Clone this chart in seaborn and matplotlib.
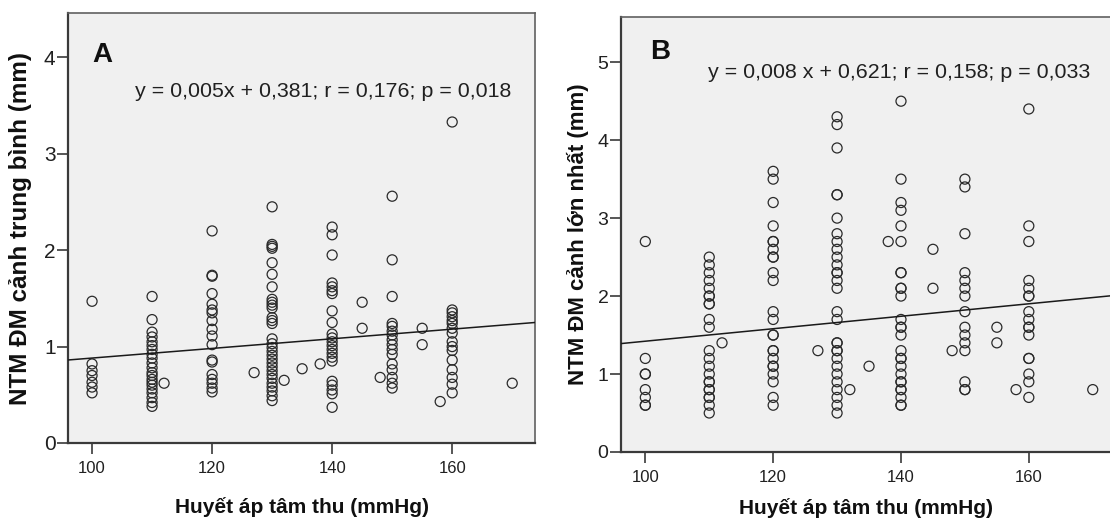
import matplotlib
matplotlib.use("Agg")
import matplotlib.pyplot as plt
import pandas as pd
import seaborn as sns

# Panel A: mean carotid IMT (mm) by systolic BP column
a_y_100 = [1.47, 0.82, 0.75, 0.70, 0.63, 0.58, 0.52]
a_y_110 = [1.52, 1.28, 1.15, 1.10, 1.05, 1.01, 0.97, 0.92, 0.88, 0.83, 0.78,
           0.73, 0.70, 0.66, 0.63, 0.60, 0.56, 0.52, 0.47, 0.42, 0.38]
a_y_120 = [2.20, 1.74, 1.73, 1.55, 1.44, 1.38, 1.35, 1.27, 1.18, 1.11, 1.02,
           0.86, 0.84, 0.71, 0.66, 0.62, 0.57, 0.53]
a_y_130 = [2.45, 2.06, 2.04, 2.02, 1.87, 1.75, 1.62, 1.49, 1.46, 1.43, 1.40,
           1.30, 1.27, 1.24, 1.08, 1.03, 0.99, 0.95, 0.91, 0.87, 0.83, 0.79,
           0.75, 0.71, 0.67, 0.62, 0.58, 0.54, 0.49, 0.44]
a_y_140 = [2.24, 2.16, 1.95, 1.66, 1.62, 1.58, 1.55, 1.37, 1.25, 1.13, 1.09,
           1.05, 1.01, 0.97, 0.93, 0.89, 0.85, 0.64, 0.60, 0.55, 0.51, 0.37]
a_y_150 = [2.56, 1.90, 1.52, 1.24, 1.21, 1.16, 1.12, 1.07, 1.02, 0.97, 0.92,
           0.82, 0.76, 0.68, 0.62, 0.57]
a_y_160 = [3.33, 1.38, 1.35, 1.31, 1.27, 1.24, 1.19, 1.14, 1.05, 1.00, 0.96,
           0.86, 0.76, 0.68, 0.61, 0.52]
a_extra_x = [112, 127, 132, 135, 138, 145, 145, 148, 155, 155, 158, 170]
a_extra_y = [0.62, 0.73, 0.65, 0.77, 0.82, 1.46, 1.19, 0.68, 1.19, 1.02, 0.43, 0.62]

# Panel B: max carotid IMT (mm)
b_y_100 = [2.7, 1.2, 1.0, 1.0, 0.8, 0.7, 0.6, 0.6]
b_y_110 = [2.5, 2.4, 2.3, 2.2, 2.1, 2.0, 2.0, 1.9, 1.9, 1.7, 1.6, 1.3, 1.2,
           1.1, 1.0, 0.9, 0.9, 0.8, 0.8, 0.7, 0.7, 0.6, 0.5]
b_y_120 = [3.6, 3.5, 3.2, 2.9, 2.7, 2.7, 2.6, 2.5, 2.5, 2.3, 2.2, 1.8, 1.7,
           1.5, 1.5, 1.3, 1.3, 1.2, 1.1, 1.1, 1.0, 0.9, 0.7, 0.6]
b_y_130 = [4.3, 4.2, 3.9, 3.3, 3.3, 3.0, 2.8, 2.7, 2.6, 2.5, 2.4, 2.3, 2.3,
           2.2, 2.1, 1.8, 1.7, 1.4, 1.4, 1.3, 1.3, 1.2, 1.1, 1.0, 0.9, 0.8,
           0.7, 0.6, 0.5]
b_y_140 = [4.5, 3.5, 3.2, 3.1, 2.9, 2.7, 2.3, 2.3, 2.1, 2.1, 2.0, 1.7, 1.6,
           1.6, 1.5, 1.3, 1.2, 1.2, 1.1, 1.0, 0.9, 0.9, 0.8, 0.8, 0.7, 0.6, 0.6]
b_y_150 = [3.5, 3.4, 2.8, 2.3, 2.2, 2.1, 2.0, 1.8, 1.6, 1.5, 1.4, 1.3, 0.9,
           0.8, 0.8]
b_y_160 = [4.4, 2.9, 2.7, 2.2, 2.1, 2.0, 2.0, 1.8, 1.7, 1.6, 1.6, 1.5, 1.2,
           1.2, 1.0, 0.9, 0.7]
b_extra_x = [112, 127, 132, 135, 138, 145, 145, 148, 155, 155, 158, 170]
b_extra_y = [1.4, 1.3, 0.8, 1.1, 2.7, 2.6, 2.1, 1.3, 1.6, 1.4, 0.8, 0.8]

sbp_columns = [100, 110, 120, 130, 140, 150, 160]
x_ticks = [100, 120, 140, 160]

# regression results printed on the chart
a_slope, a_intercept = 0.005, 0.381
b_slope, b_intercept = 0.008, 0.621
a_label = "y = 0,005x + 0,381; r = 0,176; p = 0,018"
b_label = "y = 0,008 x + 0,621; r = 0,158; p = 0,033"
x_title = "Huyết áp tâm thu (mmHg)"
a_ytitle = "NTM ĐM cảnh trung bình (mm)"
b_ytitle = "NTM ĐM cảnh lớn nhất (mm)"


def build_frame(cols, extra_x, extra_y):
    xs, ys = [], []
    for sbp, vals in zip(sbp_columns, cols):
        xs += [sbp] * len(vals)
        ys += vals
    xs += extra_x
    ys += extra_y
    return pd.DataFrame({"sbp": xs, "imt": ys})


df_a = build_frame([a_y_100, a_y_110, a_y_120, a_y_130, a_y_140, a_y_150, a_y_160],
                   a_extra_x, a_extra_y)
df_b = build_frame([b_y_100, b_y_110, b_y_120, b_y_130, b_y_140, b_y_150, b_y_160],
                   b_extra_x, b_extra_y)

sns.set_theme(style="ticks")
plt.rcParams["font.family"] = ["Liberation Sans", "DejaVu Sans"]

fig = plt.figure(figsize=(11.1, 5.23), dpi=100)
ax_a = fig.add_axes([0.0613, 0.153, 0.4207, 0.822])
ax_b = fig.add_axes([0.5595, 0.1358, 0.4405, 0.8317])


def draw_panel(ax, df, slope, intercept, xlim, ylim, yticks, letter, eq,
               letter_pos, eq_pos, ytitle, ylab_x, xlab_y, ylab_size, ytick_size):
    ax.set_facecolor("#f0f0f0")
    sns.scatterplot(data=df, x="sbp", y="imt", ax=ax, s=52, marker="o",
                    facecolor="none", edgecolor="#2a2a2a", linewidth=0.9,
                    legend=False, zorder=3)
    ax.set_xlim(*xlim)
    ax.set_ylim(*ylim)
    line = pd.DataFrame({"sbp": list(xlim)})
    line["fit"] = slope * line["sbp"] + intercept
    sns.lineplot(data=line, x="sbp", y="fit", ax=ax, color="#1a1a1a",
                 linewidth=1.1, zorder=4)
    ax.set_xticks(x_ticks)
    ax.set_yticks(yticks)
    ax.tick_params(axis="both", length=8, width=1.2, color="#3a3a3a",
                   labelcolor="#202020")
    ax.tick_params(axis="x", labelsize=12, pad=5)
    ax.tick_params(axis="y", labelsize=ytick_size, pad=1)
    for side, sp in ax.spines.items():
        sp.set_color("#3a3a3a" if side in ("left", "bottom") else "#606060")
        sp.set_linewidth(1.6 if side in ("left", "bottom") else 1.2)
    ax.text(letter_pos[0], letter_pos[1], letter, transform=ax.transAxes,
            fontsize=20, fontweight="bold", ha="left", va="baseline",
            color="#101010")
    ax.text(eq_pos[0], eq_pos[1], eq, transform=ax.transAxes, fontsize=15.4,
            ha="left", va="baseline", color="#202020")
    ax.set_xlabel(x_title, fontsize=15, fontweight="bold", color="#101010")
    ax.set_ylabel(ytitle, fontsize=ylab_size, fontweight="bold", color="#101010")
    ax.yaxis.set_label_coords(ylab_x, 0.5)
    ax.xaxis.set_label_coords(0.5, xlab_y)


draw_panel(ax_a, df_a, a_slope, a_intercept, (96, 173.8), (0, 4.46), [0, 1, 2, 3, 4],
           "A", a_label, (0.051, 0.886), (0.1435, 0.805), a_ytitle, -0.077, -0.126,
           17.5, 15)
draw_panel(ax_b, df_b, b_slope, b_intercept, (96.2, 172.7), (0, 5.58),
           [0, 1, 2, 3, 4, 5], "B", b_label, (0.059, 0.903), (0.178, 0.860),
           b_ytitle, -0.066, -0.107, 16, 14)
ax_b.spines["right"].set_visible(False)

fig.savefig("out.png", dpi=100)
